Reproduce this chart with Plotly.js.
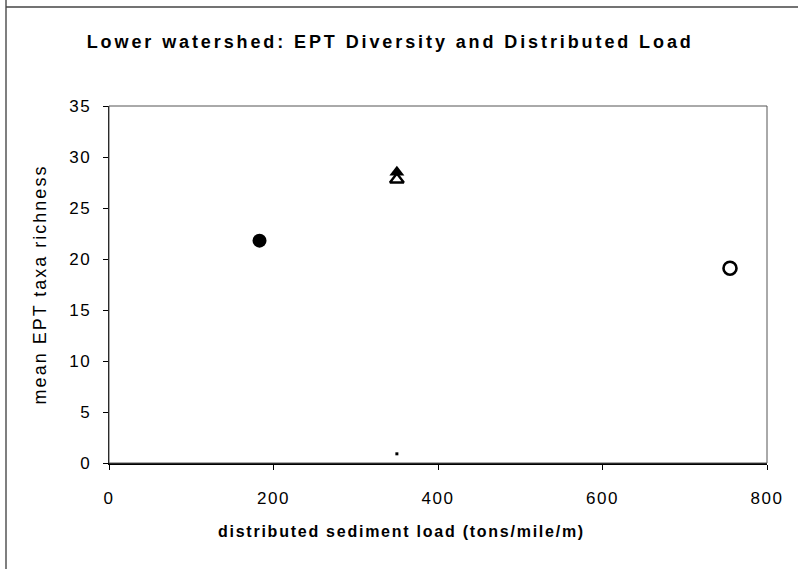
<!DOCTYPE html>
<html>
<head>
<meta charset="utf-8">
<script src="https://cdn.plot.ly/plotly-3.0.1.min.js"></script>
<style>
body{margin:0;padding:0;background:#fff;}
#chart{width:798px;height:569px;}
.gtitle{letter-spacing:2.9px;}
.annotation-text{letter-spacing:1.75px;}
.ytitle{letter-spacing:2px;}
.xtick text,.ytick text{letter-spacing:1.5px;}
</style>
</head>
<body>
<div id="chart"></div>
<script>
// Data
const filledCircleX = [183];
const filledCircleY = [21.8];
const filledTriangleX = [350];
const filledTriangleY = [28.5];
const openTriangleX = [350];
const openTriangleY = [27.8];
const openCircleX = [755];
const openCircleY = [19.1];
const dotX = [350];
const dotY = [0.9];
const xTicks = [0, 200, 400, 600, 800];
const yTicks = [0, 5, 10, 15, 20, 25, 30, 35];

const W = 798, H = 569;
const mL = 109, mR = 31, mT = 106, mB = 106;
const pw = W - mL - mR, ph = H - mT - mB;
const px = v => (v - mL) / pw;
const py = v => (H - mB - v) / ph;

const traces = [
  {x: filledCircleX, y: filledCircleY, mode: 'markers', type: 'scatter',
   marker: {symbol: 'circle', size: 14, color: '#000'}},
  {x: openTriangleX, y: openTriangleY, mode: 'markers', type: 'scatter',
   marker: {symbol: 'triangle-up-open', size: 12, color: '#000', line: {width: 2.4, color: '#000'}}},
  {x: filledTriangleX, y: filledTriangleY, mode: 'markers', type: 'scatter',
   marker: {symbol: 'triangle-up', size: 13, color: '#000'}},
  {x: openCircleX, y: openCircleY, mode: 'markers', type: 'scatter',
   marker: {symbol: 'circle-open', size: 13, color: '#000', line: {width: 2.6, color: '#000'}}},
  {x: dotX, y: dotY, mode: 'markers', type: 'scatter',
   marker: {symbol: 'square', size: 3, color: '#000'}}
];

const layout = {
  width: W, height: H,
  margin: {l: mL, r: mR, t: mT, b: mB, pad: 0},
  showlegend: false,
  paper_bgcolor: '#fff', plot_bgcolor: '#fff',
  font: {family: 'Liberation Sans, Arial, sans-serif', color: '#000'},
  title: {text: 'Lower watershed: EPT Diversity and Distributed Load',
          font: {size: 18, family: 'Liberation Sans, Arial, sans-serif', weight: 'bold', color: '#000'},
          x: 0.489, xanchor: 'center', y: 0.926, yanchor: 'middle'},
  xaxis: {range: [0, 800], tickvals: xTicks, ticktext: xTicks.map(String),
          showgrid: false, zeroline: false, showline: true, linecolor: '#000', linewidth: 1.5,
          ticks: 'outside', ticklen: 5, tickcolor: '#000', tickfont: {size: 17},
          ticklabelstandoff: 14},
  yaxis: {range: [0, 35], tickvals: yTicks, ticktext: yTicks.map(String),
          showgrid: false, zeroline: false, showline: true, linecolor: '#000', linewidth: 1.5,
          ticks: 'outside', ticklen: 5, tickcolor: '#000', tickfont: {size: 17},
          ticklabelstandoff: 8,
          title: {text: 'mean EPT taxa richness', standoff: 18, font: {size: 18}}},
  annotations: [
    {text: 'distributed sediment load (tons/mile/m)', xref: 'paper', yref: 'paper',
     x: px(401), y: py(531), xanchor: 'center', yanchor: 'middle', showarrow: false,
     font: {size: 16, weight: 'bold', color: '#000'}}
  ],
  shapes: [
    {type: 'rect', xref: 'paper', yref: 'paper', x0: 0, x1: 1, y0: 0, y1: 1,
     line: {color: '#555', width: 1}},
    {type: 'line', xref: 'paper', yref: 'paper', x0: px(6), x1: px(6), y0: py(0), y1: py(569),
     line: {color: '#555', width: 1.5}},
    {type: 'line', xref: 'paper', yref: 'paper', x0: px(6), x1: px(798), y0: py(7), y1: py(7),
     line: {color: '#444', width: 1.5}}
  ]
};

Plotly.newPlot('chart', traces, layout, {displayModeBar: false, staticPlot: true});
</script>
</body>
</html>
